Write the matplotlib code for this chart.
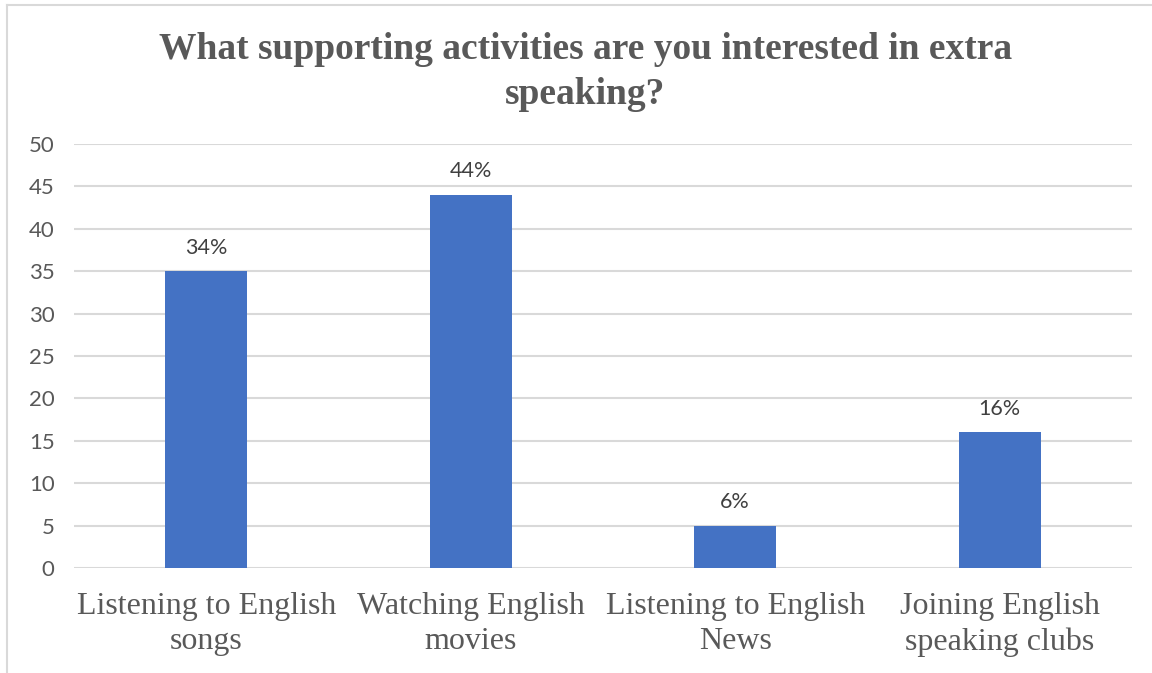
import matplotlib.pyplot as plt
from matplotlib.lines import Line2D

# Survey results
categories = ['Listening to English\nsongs', 'Watching English\nmovies',
              'Listening to English\nNews', 'Joining English\nspeaking clubs']
counts = [35, 44, 5, 16]
pct_labels = ['34%', '44%', '6%', '16%']
y_ticks = [0, 5, 10, 15, 20, 25, 30, 35, 40, 45, 50]

BAR_COLOR = '#4472c4'
GRID_COLOR = '#d9d9d9'
TEXT_COLOR = '#595959'

fig = plt.figure(figsize=(11.52, 6.73), dpi=100)
ax = fig.add_axes([0.0642, 0.156, 0.9184, 0.630])

x = list(range(len(categories)))
ax.bar(x, counts, width=0.31, color=BAR_COLOR, zorder=3)

for xi, val, lab in zip(x, counts, pct_labels):
    ax.annotate(lab, (xi, val), xytext=(0, 17), textcoords='offset points',
                ha='center', va='center', fontsize=15.5, color='#404040',
                family='Lato')

ax.set_xlim(-0.5, len(categories) - 0.5)
ax.set_ylim(0, 50)
ax.set_yticks(y_ticks)
ax.set_yticklabels([str(t) for t in y_ticks], family='Lato', fontsize=16,
                   color=TEXT_COLOR)
ax.set_xticks(x)
ax.set_xticklabels(categories, family='Liberation Serif', fontsize=23,
                   color=TEXT_COLOR, linespacing=1.3)
ax.tick_params(axis='both', length=0)
ax.tick_params(axis='x', pad=17)
ax.tick_params(axis='y', pad=14)

ax.grid(axis='y', color=GRID_COLOR, linewidth=1.5, zorder=0)
for side in ['top', 'right', 'left', 'bottom']:
    ax.spines[side].set_visible(False)

fig.text(0.508, 0.893, 'What supporting activities are you interested in extra\nspeaking?',
         ha='center', va='center', family='Liberation Serif', fontweight='bold',
         fontsize=27, color=TEXT_COLOR, linespacing=1.38)

# Chart frame (left and top edges)
fig.add_artist(Line2D([7 / 1152, 7 / 1152], [0, 1 - 5 / 673],
                      transform=fig.transFigure, color=GRID_COLOR, lw=1.5))
fig.add_artist(Line2D([7 / 1152, 1], [1 - 5 / 673, 1 - 5 / 673],
                      transform=fig.transFigure, color=GRID_COLOR, lw=1.5))

fig.savefig('out.png', dpi=100, facecolor='white')
